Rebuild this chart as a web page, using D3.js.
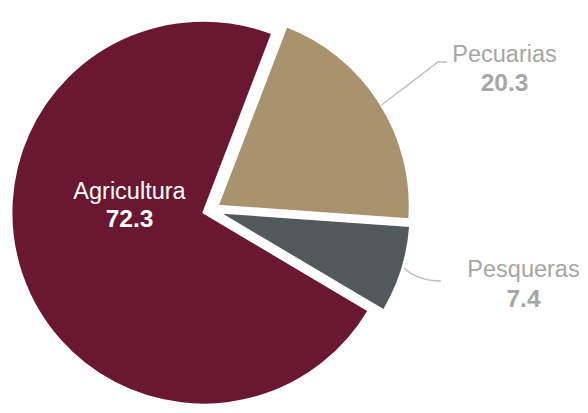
<!DOCTYPE html>
<html>
<head>
<meta charset="utf-8">
<script src="https://cdn.jsdelivr.net/npm/d3@7"></script>
<style>
  html, body { margin: 0; padding: 0; background: #ffffff; }
  svg { display: block; font-family: "Liberation Sans", Arial, sans-serif; }
</style>
</head>
<body>
<svg id="chart" width="588" height="413"></svg>
<script>
const categories = ["Agricultura", "Pecuarias", "Pesqueras"];
const values = [72.3, 20.3, 7.4];
const valueLabels = ["72.3", "20.3", "7.4"];
const colors = ["#6a1732", "#a8936e", "#53585b"];

const svg = d3.select("#chart");
const cx = 211, cy = 210, radius = 192, explode = 8;
const startDeg = 120.7;

const data = categories.map((c, i) => ({ name: c, value: values[i], label: valueLabels[i], color: colors[i] }));

const pie = d3.pie().value(d => d.value).sort(null)
  .startAngle(startDeg * Math.PI / 180)
  .endAngle(startDeg * Math.PI / 180 + 2 * Math.PI);
const arcs = pie(data);
const arc = d3.arc().innerRadius(0).outerRadius(radius);

const g = svg.append("g").attr("transform", `translate(${cx},${cy})`);
g.selectAll("path.slice").data(arcs).enter().append("path")
  .attr("class", "slice")
  .attr("d", arc)
  .attr("fill", d => d.data.color)
  .attr("stroke", "#ffffff")
  .attr("stroke-width", 2)
  .attr("transform", d => {
    const mid = (d.startAngle + d.endAngle) / 2;
    return `translate(${Math.sin(mid) * explode},${-Math.cos(mid) * explode})`;
  });

// leader lines
const lineColor = "#bfbfbf";
svg.append("path")
  .attr("d", "M381.5,105 L438,62 L447,62")
  .attr("fill", "none").attr("stroke", lineColor).attr("stroke-width", 1.5);
svg.append("path")
  .attr("d", "M404,268 Q418,281 441,281")
  .attr("fill", "none").attr("stroke", lineColor).attr("stroke-width", 1.5);

// labels
const labelPos = {
  "Agricultura": { x: 129.5, y1: 199, y2: 227, fill: "#ffffff" },
  "Pecuarias": { x: 504.5, y1: 62, y2: 91, fill: "#a6a6a6" },
  "Pesqueras": { x: 523.5, y1: 277, y2: 306.5, fill: "#a6a6a6" }
};
data.forEach(d => {
  const p = labelPos[d.name];
  svg.append("text").attr("x", p.x).attr("y", p.y1)
    .attr("text-anchor", "middle").attr("fill", p.fill)
    .attr("font-size", 23.5).text(d.name);
  svg.append("text").attr("x", p.x).attr("y", p.y2)
    .attr("text-anchor", "middle").attr("fill", p.fill)
    .attr("font-size", 24.5).attr("font-weight", "bold").text(d.label);
});
</script>
</body>
</html>
